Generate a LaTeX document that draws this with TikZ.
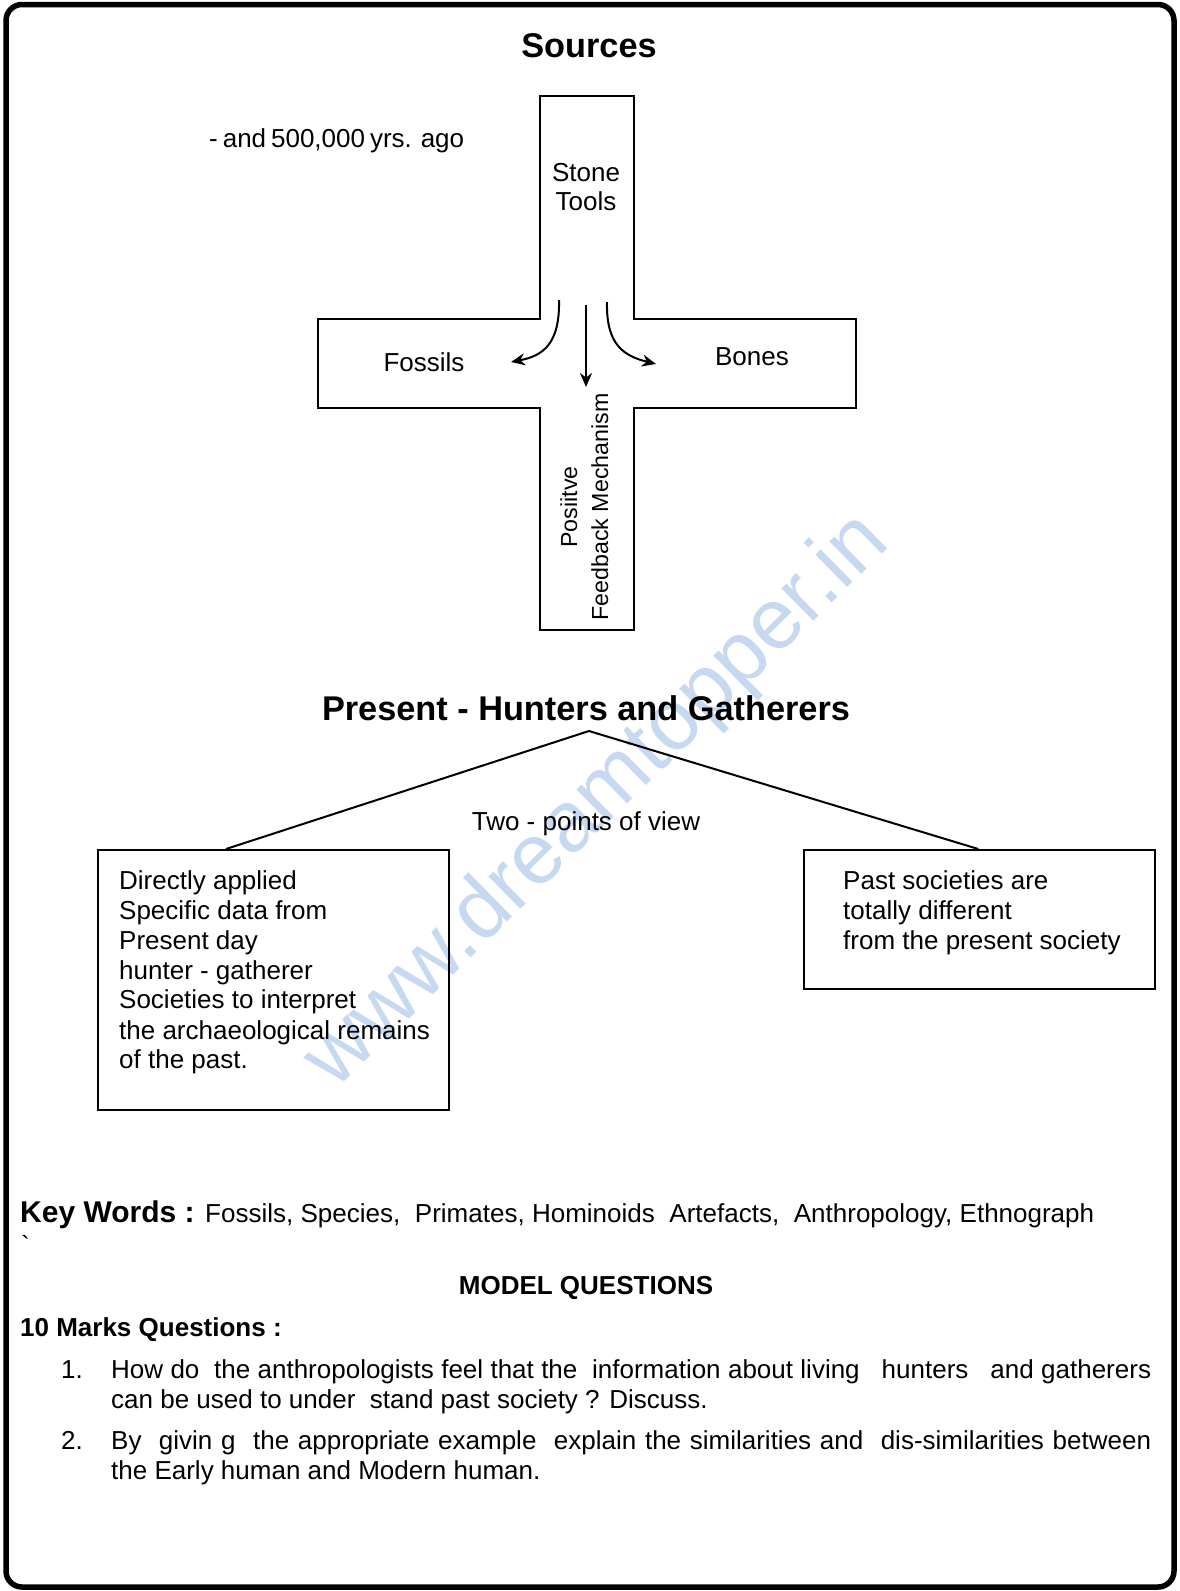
\documentclass[tikz,border=0pt]{standalone}
\usepackage{fontspec}
\setmainfont{Liberation Sans}
\usetikzlibrary{arrows.meta,calc}
\definecolor{wmblue}{RGB}{198,217,241}
\begin{document}
\begin{tikzpicture}[x=1pt,y=-1pt,
  txt/.style={inner sep=0pt, font=\fontsize{26}{30}\selectfont},
  rtxt/.style={inner sep=0pt, font=\fontsize{23.2}{28}\selectfont},
  title/.style={inner sep=0pt, font=\fontsize{34.3}{40}\selectfont\bfseries},
  bhead/.style={inner sep=0pt, font=\fontsize{26}{30}\selectfont\bfseries},
  keyhead/.style={inner sep=0pt, font=\fontsize{30}{34}\selectfont\bfseries},
  box/.style={draw, line width=2.4pt, inner sep=0pt, anchor=north west},
  conn/.style={line width=2pt},
  arr/.style={line width=2pt, -{Stealth[length=14pt,width=12pt]}},
  wmark/.style={inner sep=0pt, text=wmblue, font=\fontsize{86}{90}\selectfont}
]
\useasboundingbox (0,0) rectangle (1179,1591);

% watermark
\node[wmark, rotate=44.5] (wm) at (598,802) {www.dreamtopper.in};

% outer frame
\draw[line width=5.5pt, rounded corners=16pt] (6,4.5) rectangle (1174,1587);

% title
\node[title, anchor=base] (src) at (589,57) {Sources};
\node[txt, anchor=base west] (ago) at (209,147) {\makebox[255pt][s]{- and 500,000 yrs. ago}};

% cross
\draw[line width=2.4pt] (540,96) -- (634,96) -- (634,319) -- (856,319) -- (856,408)
  -- (634,408) -- (634,630) -- (540,630) -- (540,408) -- (318,408) -- (318,319)
  -- (540,319) -- cycle;

\node[txt, anchor=base] (st1) at (586,181) {Stone};
\node[txt, anchor=base] (st2) at (586,210) {Tools};
\node[txt, anchor=base] (fos) at (424,371) {Fossils};
\node[txt, anchor=base] (bon) at (752,365) {Bones};
\node[rtxt, rotate=90, anchor=base] (pos1) at (577,507) {Posiitve};
\node[rtxt, rotate=90, anchor=base] (pos2) at (608,507) {Feedback Mechanism};

% arrows
\coordinate (la) at (559,300);
\coordinate (lb) at (511,362);
\coordinate (ma) at (586,305);
\coordinate (mb) at (586,387);
\coordinate (ra) at (607,302);
\coordinate (rb) at (656,364);
\draw[arr] (la) .. controls (560,345) and (542,356) .. (lb);
\draw[arr] (ma) -- (mb);
\draw[arr] (ra) .. controls (606,345) and (624,356) .. (rb);

% present
\node[title, anchor=base] (pres) at (586,720.5) {Present - Hunters and Gatherers};
\coordinate (apex) at (589,731);
\node[txt, anchor=base] (two) at (586,830) {Two - points of view};

\node[box, minimum width=351pt, minimum height=260pt] (lbox) at (97,849) {};
\node[box, minimum width=351pt, minimum height=139pt] (rbox) at (803,849) {};

\draw[conn] (apex) -- ($(lbox.north west)!0.365!(lbox.north east)$);
\draw[conn] (apex) -- ($(rbox.north west)!0.496!(rbox.north east)$);

\node[txt, anchor=base west] (l1) at (119,889) {Directly applied};
\node[txt, anchor=base west] (l2) at (119,919) {Specific data from};
\node[txt, anchor=base west] (l3) at (119,949.5) {Present day};
\node[txt, anchor=base west] (l4) at (119,979) {hunter - gatherer};
\node[txt, anchor=base west] (l5) at (119,1008.5) {Societies to interpret};
\node[txt, anchor=base west] (l6) at (119,1039) {the archaeological remains};
\node[txt, anchor=base west] (l7) at (119,1068) {of the past.};

\node[txt, anchor=base west] (r1) at (843,889) {Past societies are};
\node[txt, anchor=base west] (r2) at (843,919) {totally different};
\node[txt, anchor=base west] (r3) at (843,949.5) {from the present society};

% key words
\node[keyhead, anchor=base west] (kw) at (20,1222) {Key Words :};
\node[txt, anchor=base west] (kwl) at (205,1222) {\makebox[889pt][s]{Fossils, Species,\ \ Primates, Hominoids\ \ Artefacts,\ \ Anthropology, Ethnograph}};
\node[txt, anchor=base west] (tick) at (21,1254) {\textasciigrave};

% questions
\node[bhead, anchor=base] (mq) at (586,1294.5) {MODEL QUESTIONS};
\node[bhead, anchor=base west] (tm) at (20,1336) {10 Marks Questions :};

\node[txt, anchor=base west] (n1) at (61,1378) {1.};
\node[txt, anchor=base west] (q1a) at (111,1378) {\makebox[1040pt][s]{How do\ \ the anthropologists feel that the\ \ information about living\ \ \ hunters\ \ \ and gatherers}};
\node[txt, anchor=base west] (q1b) at (111,1408) {can be used to under\ \ stand past society ? Discuss.};
\node[txt, anchor=base west] (n2) at (61,1449) {2.};
\node[txt, anchor=base west] (q2a) at (111,1449) {\makebox[1040pt][s]{By\ \ givin g\ \ the appropriate example\ \ explain the similarities and\ \ dis-similarities between}};
\node[txt, anchor=base west] (q2b) at (111,1479) {the Early human and Modern human.};
\end{tikzpicture}
\end{document}
